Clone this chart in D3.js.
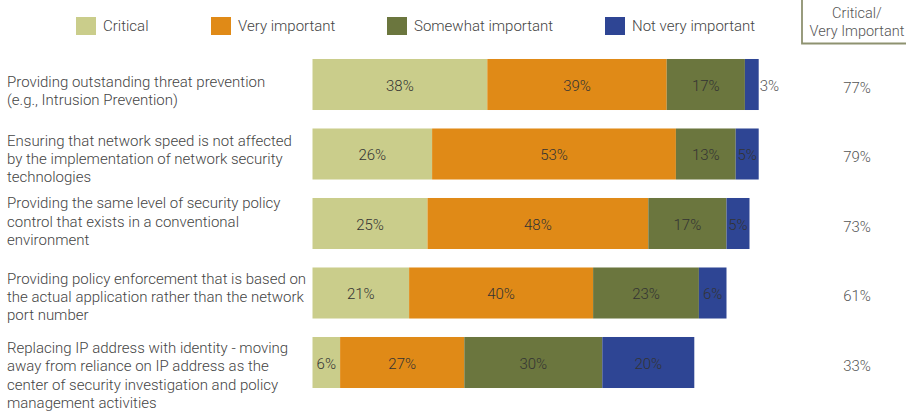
<!DOCTYPE html>
<html>
<head>
<meta charset="utf-8">
<script src="https://cdn.jsdelivr.net/npm/d3@7/dist/d3.min.js"></script>
<style>
  body { margin: 0; background: #fff; }
  svg { font-family: Roboto, "Open Sans", sans-serif; font-weight: 300; }
</style>
</head>
<body>
<svg id="chart"></svg>
<script>
// Data
const categories = [
  ['Providing outstanding threat prevention', '(e.g., Intrusion Prevention)'],
  ['Ensuring that network speed is not affected', 'by the implementation of network security', 'technologies'],
  ['Providing the same level of security policy', 'control that exists in a conventional', 'environment'],
  ['Providing policy enforcement that is based on', 'the actual application rather than the network', 'port number'],
  ['Replacing IP address with identity - moving', 'away from reliance on IP address as the', 'center of security investigation and policy', 'management activities']
];
const seriesNames = ['Critical', 'Very important', 'Somewhat important', 'Not very important'];
const critical = [38, 26, 25, 21, 6];
const veryImportant = [39, 53, 48, 40, 27];
const somewhatImportant = [17, 13, 17, 23, 30];
const notVeryImportant = [3, 5, 5, 6, 20];
const criticalVeryImportant = [77, 79, 73, 61, 33];
const sideHeader = ['Critical/', 'Very Important'];

const width = 906, height = 411;
const colors = ['#cacd8b', '#e08a17', '#6b763e', '#2e4594'];

const svg = d3.select('#chart')
  .attr('width', width)
  .attr('height', height);

// Scales
const x = d3.scaleLinear()
  .domain([0, 100])
  .range([312.5, 772.5]);

const y = d3.scaleBand()
  .domain(d3.range(categories.length))
  .range([49.75, 397.25])
  .paddingInner(0.266)
  .paddingOuter(0.133);

// Build stacked table
const table = categories.map((c, i) => ({
  i,
  'Critical': critical[i],
  'Very important': veryImportant[i],
  'Somewhat important': somewhatImportant[i],
  'Not very important': notVeryImportant[i]
}));
const stacked = d3.stack().keys(seriesNames)(table);

// Bars
const layers = svg.append('g')
  .selectAll('g')
  .data(stacked)
  .enter()
  .append('g')
    .attr('fill', (d, k) => colors[k]);

layers.selectAll('rect')
  .data(d => d)
  .enter()
  .append('rect')
    .attr('x', d => x(d[0]))
    .attr('y', d => y(d.data.i))
    .attr('width', d => x(d[1]) - x(d[0]))
    .attr('height', y.bandwidth());

// Value labels (tiny segments get the label outside the bar)
layers.selectAll('text')
  .data(d => d)
  .enter()
  .append('text')
    .attr('x', d => (d[1] - d[0]) < 4 ? x(d[1]) + 1 : (x(d[0]) + x(d[1])) / 2)
    .attr('y', d => y(d.data.i) + y.bandwidth() / 2 + 1)
    .attr('dy', '0.35em')
    .attr('text-anchor', d => (d[1] - d[0]) < 4 ? 'start' : 'middle')
    .attr('fill', d => (d[1] - d[0]) < 4 ? '#555' : '#333')
    .style('font-size', '15px')
    .text(d => (d[1] - d[0]) + '%');

// Category labels
const lineH = 18.3;
const labelNudge = [1.5, 0, -7, -1, 8];
const labels = svg.append('g')
  .selectAll('text')
  .data(categories)
  .enter()
  .append('text')
    .attr('x', 7)
    .attr('y', (d, i) => y(i) + y.bandwidth() / 2 + 10 + labelNudge[i] - (d.length - 1) * lineH / 2)
    .attr('fill', '#444')
    .style('font-size', '15px');

labels.selectAll('tspan')
  .data(d => d)
  .enter()
  .append('tspan')
    .attr('x', 7)
    .attr('dy', (d, j) => j === 0 ? 0 : lineH)
    .text(d => d);

// Right column values
svg.append('g')
  .selectAll('text')
  .data(criticalVeryImportant)
  .enter()
  .append('text')
    .attr('x', 857)
    .attr('y', (d, i) => y(i) + y.bandwidth() / 2 + 3)
    .attr('dy', '0.35em')
    .attr('text-anchor', 'middle')
    .attr('fill', '#555')
    .style('font-size', '15px')
    .text(d => d + '%');

// Right header box
const header = svg.append('g');
header.append('path')
  .attr('d', `M802,0 V43.5 H${width}`)
  .attr('fill', 'none')
  .attr('stroke', '#8e9270')
  .attr('stroke-width', 1.8);
header.selectAll('text')
  .data(sideHeader)
  .enter()
  .append('text')
    .attr('x', 857)
    .attr('y', (d, i) => 18 + i * 18)
    .attr('text-anchor', 'middle')
    .attr('fill', '#555')
    .style('font-size', '14.5px')
    .text(d => d);

// Legend
const legendX = [76, 211, 387, 605];
const legend = svg.append('g')
  .selectAll('g')
  .data(seriesNames)
  .enter()
  .append('g')
    .attr('transform', (d, i) => `translate(${legendX[i]}, 17)`);

legend.append('rect')
  .attr('width', 20)
  .attr('height', 18)
  .attr('fill', (d, i) => colors[i]);

legend.append('text')
  .attr('x', 27)
  .attr('y', 9)
  .attr('dy', '0.35em')
  .attr('fill', '#444')
  .style('font-size', '15px')
  .text(d => d);
</script>
</body>
</html>
